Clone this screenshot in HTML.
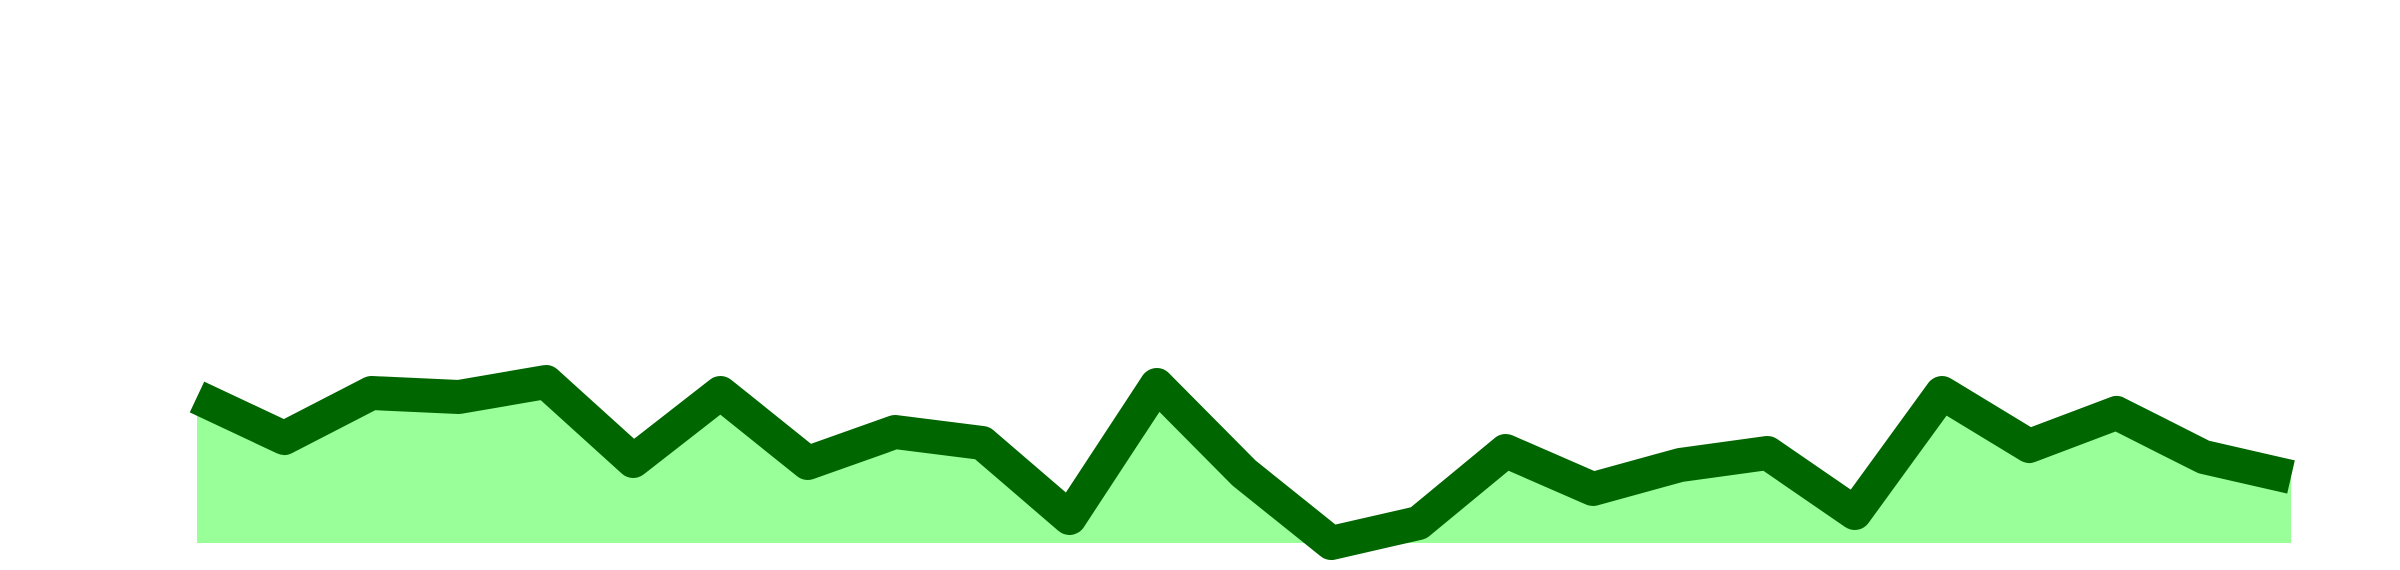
<!DOCTYPE html>
<html><head><meta charset="utf-8"><style>html,body{margin:0;padding:0;background:#fff}svg{display:block}</style></head>
<body>
<svg id="chart" width="2400" height="570" viewBox="0 0 2400 570" xmlns="http://www.w3.org/2000/svg"></svg>
<script>
const categories = [1,2,3,4,5,6,7,8,9,10,11,12,13,14,15,16,17,18,19,20,21,22,23,24,25];
const values = [146,105,150,146,161,82,150,80,111,100,25,158,70,0,20,92,54,78,90,30,150,97,130,86,66];
const x0 = 197, x1 = 2291, baseY = 543;
function xScale(i){ return x0 + (x1 - x0) * i / (categories.length - 1); }
function yScale(v){ return baseY - v; }
const svg = document.getElementById('chart');
const ns = 'http://www.w3.org/2000/svg';
let pts = values.map((v,i)=>xScale(i)+','+yScale(v));
const area = document.createElementNS(ns,'path');


area.setAttribute('d','M'+xScale(0)+','+baseY+' L'+pts.join(' L')+' L'+xScale(values.length-1)+','+baseY+' Z');
area.setAttribute('fill','#99ff99');
svg.appendChild(area);
const line = document.createElementNS(ns,'polyline');


line.setAttribute('points', pts.join(' '));
line.setAttribute('fill','none');
line.setAttribute('stroke','#006600');
line.setAttribute('stroke-width','34');
line.setAttribute('stroke-linejoin','round');
line.setAttribute('stroke-linecap','butt');
svg.appendChild(line);
</script>
</body></html>
